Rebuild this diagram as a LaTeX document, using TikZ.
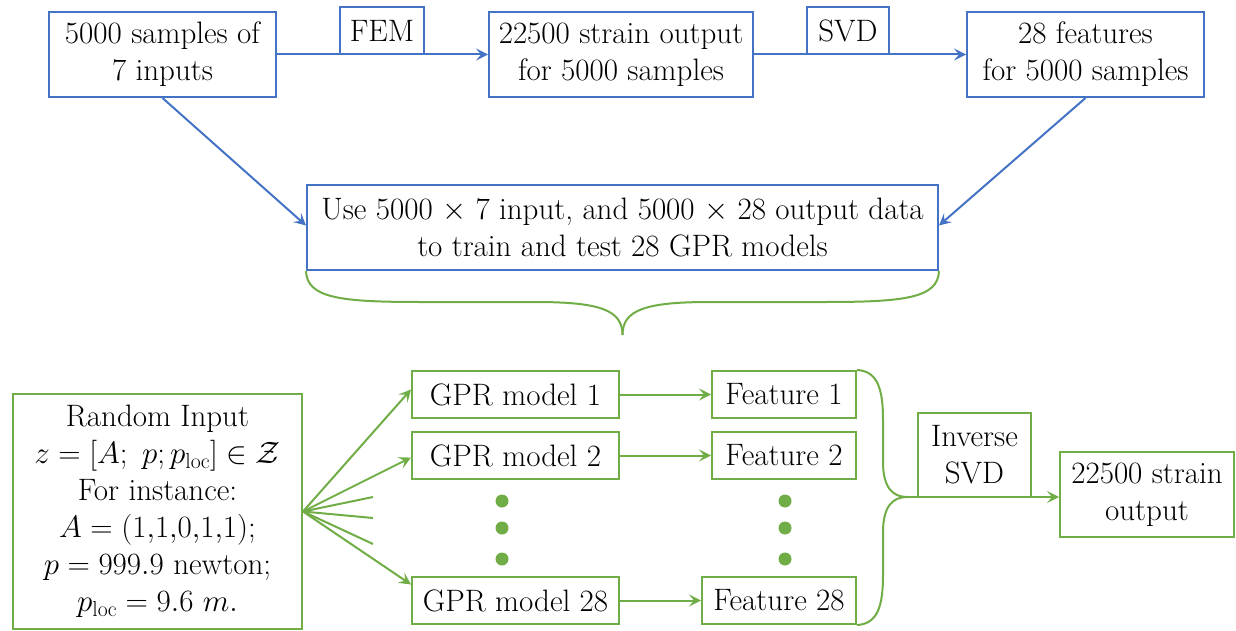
\RequirePackage{fix-cm}
\documentclass[tikz,border=0pt]{standalone}
\usepackage{fontspec}
\usetikzlibrary{arrows.meta}
\definecolor{bl}{HTML}{4472C4}
\definecolor{gr}{HTML}{70AD47}
\newcommand{\fsz}{\fontsize{31}{37}\selectfont}
\begin{document}
\begin{tikzpicture}[x=1pt,y=-1pt,
  box/.style={draw, line width=2pt, fill=white, align=center, inner sep=0pt, font=\fsz, text=black},
  bbox/.style={box, draw=bl},
  gbox/.style={box, draw=gr},
  bline/.style={draw=bl, line width=2pt},
  gline/.style={draw=gr, line width=2pt},
  arr/.style={-{Stealth[length=12pt,width=12pt,inset=5pt]}},
  gdot/.style={circle, fill=gr, draw=none, inner sep=0pt, minimum size=13pt}
]
\useasboundingbox (0,0) rectangle (1236,631);

% top row
\node[bbox, minimum width=227pt, minimum height=85pt] (A) at (162.5,54.5) {5000 samples of\\7 inputs};
\node[bbox, minimum width=264pt, minimum height=85pt] (B) at (621,54.5) {22500 strain output\\for 5000 samples};
\node[bbox, minimum width=237pt, minimum height=85pt] (C) at (1085.5,54.5) {28 features\\for 5000 samples};
\draw[bline, arr] (A) -- (B);
\draw[bline, arr] (B) -- (C);
\node[bbox, minimum width=84pt, minimum height=47pt] (FEM) at (382,31) {FEM};
\node[bbox, minimum width=82pt, minimum height=47pt] (SVD) at (848,31) {SVD};

\node[bbox, minimum width=631pt, minimum height=85pt] (D) at (622.5,227.5) {Use 5000 $\times$ 7 input, and 5000 $\times$ 28 output data\\to train and test 28 GPR models};
\draw[bline, arr] (A.south) -- ([yshift=2pt]D.west);
\draw[bline, arr] (C.south) -- ([yshift=2pt]D.east);

% top brace
\coordinate (btip) at (622.5,335);
\draw[gline] (D.south west) .. controls (307,298) and (340,302) .. (420,302)
  -- (535,302) .. controls (600,302) and (622.5,310) .. (btip);
\draw[gline] (D.south east) .. controls (938,298) and (905,302) .. (825,302)
  -- (710,302) .. controls (645,302) and (622.5,310) .. (btip);

% bottom section
\node[gbox, minimum width=289pt, minimum height=235pt] (R) at (157.5,511.5)
  {Random Input\\$z=[A;\ p;p_{\mathrm{loc}}]\in\mathcal{Z}$\\For instance:\\$A=(1{,}1{,}0{,}1{,}1);$\\$p=999.9$ newton;\\$p_{\mathrm{loc}}=9.6\ m.$};

\node[gbox, minimum width=207pt, minimum height=47pt] (G1) at (515.5,394.5) {GPR model 1};
\node[gbox, minimum width=207pt, minimum height=47pt] (G2) at (515.5,455.5) {GPR model 2};
\node[gbox, minimum width=207pt, minimum height=47pt] (G28) at (515.5,600.5) {GPR model 28};
\node[gbox, minimum width=144pt, minimum height=47pt] (F1) at (784,394.5) {Feature 1};
\node[gbox, minimum width=144pt, minimum height=47pt] (F2) at (784,455.5) {Feature 2};
\node[gbox, minimum width=154pt, minimum height=47pt] (F28) at (779,600.5) {Feature 28};

\node[gdot] (d1) at (502,501) {};
\node[gdot] (d2) at (502,528) {};
\node[gdot] (d3) at (502,559) {};
\node[gdot] (e1) at (785,501) {};
\node[gdot] (e2) at (785,528) {};
\node[gdot] (e3) at (785,559) {};

\draw[gline, arr] (G1) -- (F1);
\draw[gline, arr] (G2) -- (F2);
\draw[gline, arr] (G28) -- (G28 -| F28.west);

% fan
\coordinate (fan) at (R.east);
\coordinate (s1) at (373,497);
\coordinate (s2) at (373,518);
\coordinate (s3) at (373,544);
\draw[gline, arr] (fan) -- ([yshift=5pt]G1.west);
\draw[gline, arr] (fan) -- ([yshift=-2pt]G2.west);
\draw[gline, arr] (fan) -- ([yshift=16pt]G28.west);
\draw[gline] (fan) -- (s1);
\draw[gline] (fan) -- (s2);
\draw[gline] (fan) -- (s3);

% right brace
\coordinate (rtip) at (907,497);
\draw[gline] (F1.north east) .. controls (878,371) and (883,390) .. (883,420)
  -- (883,462) .. controls (883,488) and (893,497) .. (rtip);
\draw[gline] (F28.south east) .. controls (878,624) and (883,605) .. (883,575)
  -- (883,532) .. controls (883,506) and (893,497) .. (rtip);

\node[gbox, minimum width=174pt, minimum height=85pt] (O) at (1147,494.5) {22500 strain\\output};
\draw[gline, arr] (rtip) -- (rtip -| O.west);
\node[gbox, minimum width=113pt, minimum height=84pt] (I) at (974.5,455) {Inverse\\SVD};
\end{tikzpicture}
\end{document}
